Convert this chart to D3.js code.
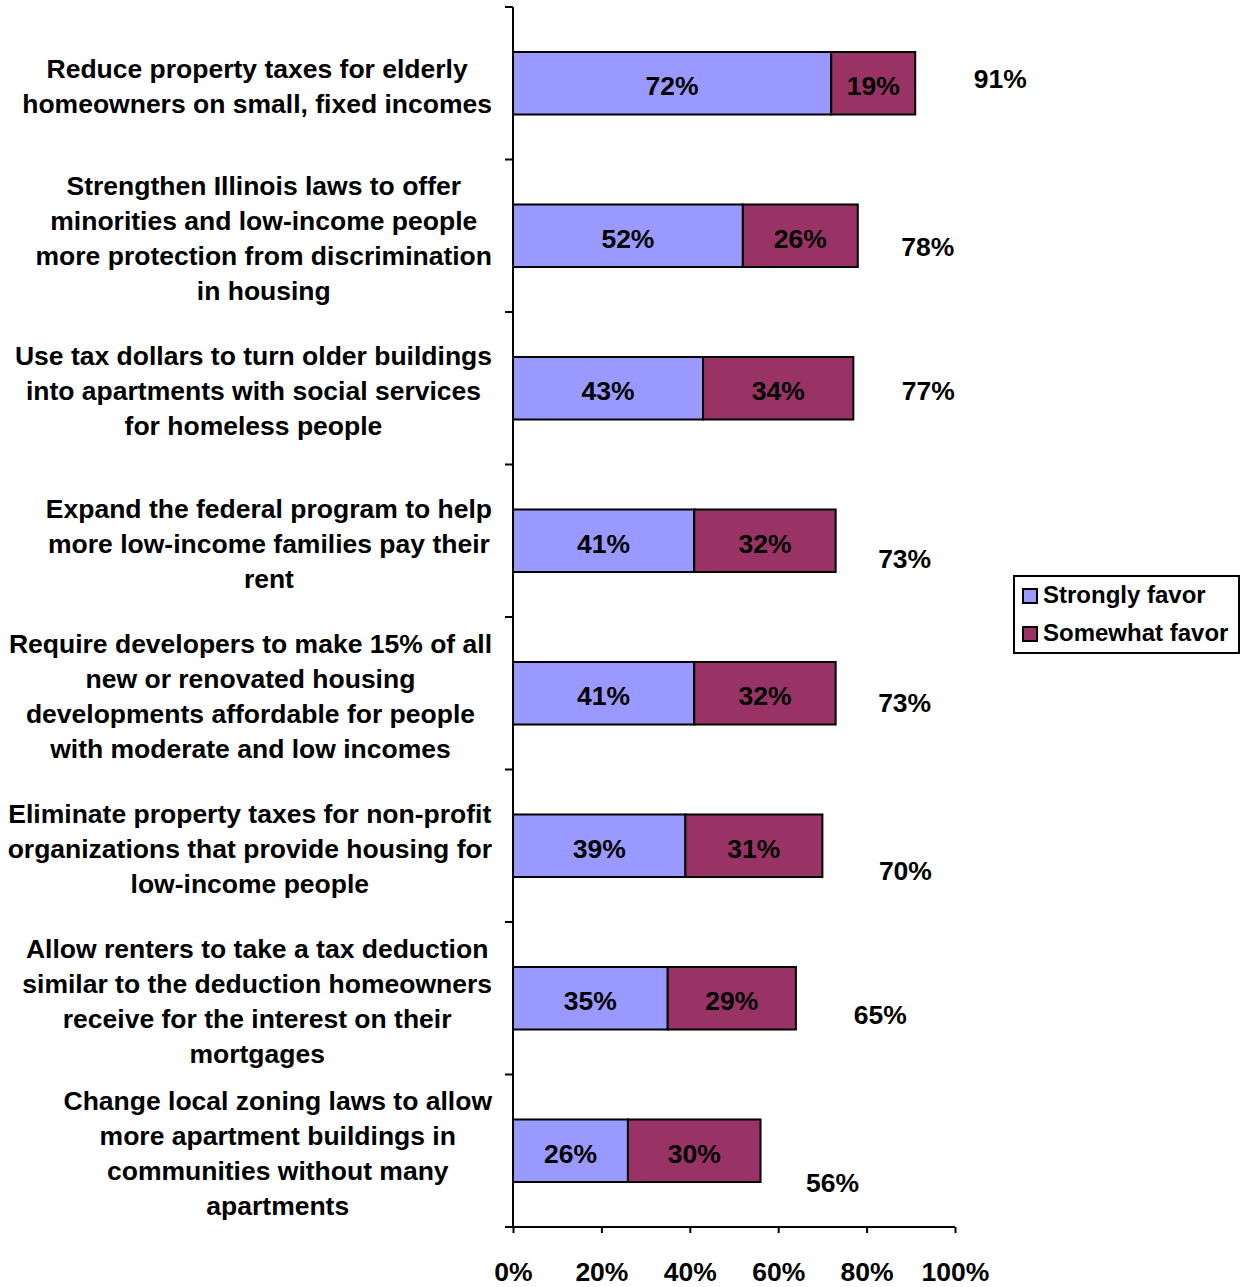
<!DOCTYPE html>
<html><head><meta charset="utf-8">
<script src="https://cdn.jsdelivr.net/npm/d3@7"></script>
<style>body{margin:0;background:#fff}svg{display:block}text{font-family:"Liberation Sans",Arial,sans-serif;font-weight:bold}</style>
</head><body>
<svg id="c" width="1245" height="1287"></svg>
<script>
const categories = [
  ["Reduce property taxes for elderly","homeowners on small, fixed incomes"],
  ["Strengthen Illinois laws to offer","minorities and low-income people","more protection from discrimination","in housing"],
  ["Use tax dollars to turn older buildings","into apartments with social services","for homeless people"],
  ["Expand the federal program to help","more low-income families pay their","rent"],
  ["Require developers to make 15% of all","new or renovated housing","developments affordable for people","with moderate and low incomes"],
  ["Eliminate property taxes for non-profit","organizations that provide housing for","low-income people"],
  ["Allow renters to take a tax deduction","similar to the deduction homeowners","receive for the interest on their","mortgages"],
  ["Change local zoning laws to allow","more apartment buildings in","communities without many","apartments"]
];
const strongly = [72,52,43,41,41,39,35,26];
const somewhat = [19,26,34,32,32,31,29,30];
const totals = [91,78,77,73,73,70,65,56];
const seriesNames = ["Strongly favor","Somewhat favor"];
const xTicks = [0,20,40,60,80,100];

// layout-only nudges for total labels (dx, dy) mimicking the original
const totalNudge = [[85,-3],[70,12],[75,4],[69,19],[69,11],[83,26],[80,18],[72,33]];

const colors = ["#9999FF","#993366"];
const FS = 26.5;
const svg = d3.select("#c");
const x = d3.scaleLinear().domain([0,100]).range([513,955]);
const y = d3.scaleBand().domain(d3.range(categories.length)).range([7,1227]).paddingInner(0.59).paddingOuter(0.295);

// axes
const gx = svg.append("g").attr("transform","translate(0,1227)")
  .call(d3.axisBottom(x).tickValues(xTicks).tickFormat(d=>d+"%").tickSize(6).tickSizeOuter(0));
gx.select(".domain").attr("stroke","#000").attr("stroke-width",2).attr("d","M505,0H955");
gx.selectAll(".tick line").attr("stroke","#000").attr("stroke-width",2);
gx.selectAll(".tick text").attr("fill","#000").attr("font-size",FS).attr("font-family","Liberation Sans, Arial, sans-serif").attr("font-weight","bold").attr("dy",0).attr("y",47).attr("dominant-baseline","middle");

const yAxisScale = d3.scaleLinear().domain([0,categories.length]).range([7,1227]);
svg.append("line").attr("x1",513).attr("x2",513).attr("y1",7).attr("y2",1227).attr("stroke","#000").attr("stroke-width",2);
svg.selectAll(".yt").data(d3.range(categories.length)).enter().append("line")
  .attr("x1",505).attr("x2",513).attr("y1",d=>yAxisScale(d)).attr("y2",d=>yAxisScale(d))
  .attr("stroke","#000").attr("stroke-width",2);

// bars
const rows = categories.map((c,i)=>({i, s:strongly[i], w:somewhat[i], t:totals[i]}));
const g = svg.append("g");
rows.forEach(r=>{
  const yy = y(r.i), h = y.bandwidth();
  g.append("rect").attr("x",x(0)).attr("y",yy).attr("width",x(r.s)-x(0)).attr("height",h)
    .attr("fill",colors[0]).attr("stroke","#000").attr("stroke-width",2);
  g.append("rect").attr("x",x(r.s)).attr("y",yy).attr("width",x(r.s+r.w)-x(r.s)).attr("height",h)
    .attr("fill",colors[1]).attr("stroke","#000").attr("stroke-width",2);
  g.append("text").attr("x",(x(0)+x(r.s))/2).attr("y",yy+h/2+5).attr("text-anchor","middle")
    .attr("dominant-baseline","middle").attr("font-size",FS).text(r.s+"%");
  g.append("text").attr("x",(x(r.s)+x(r.s+r.w))/2).attr("y",yy+h/2+5).attr("text-anchor","middle")
    .attr("dominant-baseline","middle").attr("font-size",FS).text(r.w+"%");
  g.append("text").attr("x",x(r.t)+totalNudge[r.i][0]).attr("y",yy+h/2+totalNudge[r.i][1]+1).attr("text-anchor","middle")
    .attr("dominant-baseline","middle").attr("font-size",FS).text(r.t+"%");
});

// category labels
const lh = 35;
categories.forEach((lines,i)=>{
  const t = svg.append("text").attr("font-size",FS).attr("text-anchor","middle").attr("dominant-baseline","middle");
  const cy = y(i)+y.bandwidth()/2+5;
  const y0 = cy-(lines.length-1)*lh/2;
  const spans = lines.map((l,k)=>t.append("tspan").attr("y",y0+k*lh).text(l));
  let maxW = 0; spans.forEach(s=>{maxW=Math.max(maxW,s.node().getComputedTextLength());});
  const cx = 492-maxW/2;
  spans.forEach(s=>s.attr("x",cx));
});

// legend
const lg = svg.append("g").attr("transform","translate(1014,576)");
lg.append("rect").attr("width",225).attr("height",77).attr("fill","#fff").attr("stroke","#000").attr("stroke-width",2);
seriesNames.forEach((n,k)=>{
  lg.append("rect").attr("x",9).attr("y",13+k*38).attr("width",14).attr("height",14).attr("fill",colors[k]).attr("stroke","#000").attr("stroke-width",2);
  lg.append("text").attr("x",29).attr("y",21+k*38).attr("dominant-baseline","middle").attr("font-size",24).text(n);
});
</script>
</body></html>
